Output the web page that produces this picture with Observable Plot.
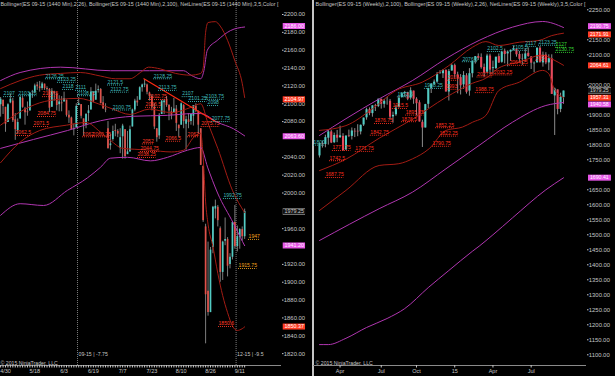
<!DOCTYPE html>
<html><head><meta charset="utf-8">
<script src="https://cdn.jsdelivr.net/npm/d3@7"></script>
<script src="https://cdn.jsdelivr.net/npm/@observablehq/plot@0.6"></script>
<style>
html,body{margin:0;padding:0;background:#000;}
#wrap{position:relative;width:615px;height:376px;background:#000;overflow:hidden;}
#wrap svg{position:absolute;top:0;}
#sep{position:absolute;left:312px;top:0;width:1.5px;height:376px;background:#c4c4c4;}
</style></head><body><div id="wrap"><div id="sep"></div></div>
<script>
// ================= DAILY (left panel) =================
const dOpen = [2099,2104,2096,2079,2101,2103,2082,2070,2083,2106, 2094,2091,2092,2113,2113,2121,2119,2117,2122,2117,
 2116,2096,2113,2111,2099,2101,2102,2104,2087,2084, 2071,2073,2098,2099,2083,2076,2089,2093,2113,2104,
 2115,2116,2101,2094,2072,2053,2060,2070,2069,2050, 2063,2071,2043,2046,2074,2093,2103,2104,2118,2121,
 2121,2112,2108,2096,2072,2064,2088,2101,2105,2098, 2091,2090,2094,2076,2076,2098,2077,2082,2080,2086,
 2097,2091,2072,2030,1962,1890,1866,1939,1982,1984, 1960,1911,1946,1948,1920,1928,1967,1940,1950,1959, 1951];
const dHigh = [2107,2104,2096,2100,2111,2106,2089,2083,2108,2108, 2096,2102,2112,2115,2122,2124,2125,2124,2122,2119,
 2117,2117,2114,2112,2109,2108,2113,2104,2092,2085, 2077,2100,2107,2099,2083,2089,2098,2118,2113,2122,
 2120,2117,2108,2100,2080,2066,2075,2077,2071,2072, 2077,2071,2069,2075,2094,2105,2108,2119,2122,2127,
 2122,2113,2110,2100,2072,2089,2104,2105,2108,2099, 2096,2106,2098,2076,2101,2099,2086,2089,2088,2098,
 2100,2092,2072,2030,1965,1945,1939,1985,1992,1986, 1962,1946,1972,1950,1932,1968,1986,1963,1960,1962, 1982];
const dLow = [2085,2088,2068,2079,2100,2079,2059,2066,2083,2095, 2076,2086,2092,2106,2111,2115,2113,2115,2115,2114,
 2090,2096,2103,2092,2091,2091,2102,2085,2078,2071, 2064,2073,2098,2083,2064,2072,2080,2093,2101,2104,
 2112,2100,2094,2090,2049,2048,2058,2063,2062,2044, 2038,2038,2043,2046,2074,2091,2097,2104,2113,2118,
 2110,2103,2092,2071,2057,2060,2088,2088,2096,2081, 2082,2089,2069,2062,2076,2072,2048,2072,2076,2075,
 2090,2066,2031,1967,1831,1862,1866,1932,1971,1962, 1900,1902,1941,1906,1915,1925,1937,1934,1937,1946, 1948];
const dClose = [2105,2097,2077,2099,2105,2081,2071,2079,2107,2096, 2090,2090,2112,2113,2120,2119,2117,2122,2117,2116,
 2095,2114,2111,2098,2102,2100,2106,2087,2084,2071, 2072,2097,2100,2086,2076,2088,2092,2113,2102,2114,
 2116,2100,2094,2093,2050,2055,2069,2069,2066,2062, 2075,2041,2046,2071,2093,2103,2101,2118,2121,2122,
 2113,2108,2096,2074,2062,2087,2103,2103,2098,2092, 2087,2094,2078,2072,2100,2080,2082,2079,2088,2098,
 2092,2076,2031,1969,1886,1866,1936,1984,1985,1969, 1911,1945,1948,1918,1928,1967,1940,1951,1959,1951, 1979.25];

const dXLabels   = ["4/30","5/18","6/3","6/19","7/7","7/23","8/10","8/26","9/11"];
const dXLabelIdx = [2,14,26,38,50,62,74,86,98];
// visible price-axis labels (those hidden behind the price markers are left out)
const dYTicks = [1820,1840,1860,1880,1900,1920,1960,2000,2020,2040,2080,2100,2120,2140,2160,2180,2200];

// indicator lines [bar index, price]
const dBB26Up  = [[0,2117],[8,2126],[16,2132],[24.5,2134],[32.7,2135],[41,2131],[47,2128],[53,2128],[57.3,2135],[60.6,2141],[65.5,2139],[71.7,2134],[77.8,2132],[82,2134],[83,2140],[84,2180],[85,2191],[88,2192],[90,2187],[93,2171],[96,2148],[99,2123],[100,2107]];
const dBB26Mid = [[0,2076],[8,2091],[16,2101],[24,2105],[32,2106],[40,2100],[46,2094],[53,2088],[61,2094],[70,2090],[78,2096],[82,2100],[85,2078],[89,2050],[95,2003],[100,1978]];
const dBB26Low = [[0,2034],[8,2057],[16,2070],[27,2076],[35,2079],[41,2068],[45,2059],[50,2050],[55,2049],[61,2048],[70,2046],[75,2048],[79,2062],[82,2067],[83,2040],[84,1990],[85,1965],[87,1940],[89,1910],[91,1885],[93,1866],[95,1851],[97,1846],[99,1848],[100,1850]];
const dBB100Up  = [[0,2126],[8,2135],[24.5,2141],[45,2137],[61,2137],[75,2137],[78,2132],[82,2128],[83.3,2137],[84.7,2160],[88.8,2171],[94.2,2182],[100,2186]];
const dBB100Mid = [[0,2050],[13.5,2060],[27.4,2070],[41,2081],[54.5,2086],[68.4,2087],[79,2089],[82,2089],[89,2079],[95.4,2072],[100,2064]];
const dBB100Low = [[0,1975],[8,1988],[17.6,1986],[27.4,2003],[35.6,2017],[41,2029],[45,2039],[52,2040],[61.4,2036],[68.4,2040],[76.6,2048],[82,2051],[84.8,2029],[88.9,2000],[95.4,1966],[98.3,1950],[100,1941]];
const dTrend = [[58.7,2128],[88,2080]];

const dRollIdx  = [31.5, 96.5];
const dRollText = ["09-15 | -7.75", "12-15 | -9.5"];

// NetLines labels [text, bar index, price level]
const dCyanLabels = [["2107",1.2,2108],["2103.25",7.3,2109],["2126.25",18.4,2128],["2123.25",23.3,2124],["2118",25.4,2116],["2111",30.7,2115],["2108.75",31.5,2109],["2121.5",43.8,2121],["2112.75",45,2113],["2100.75",45.9,2093],["2128.25",62.7,2128],["2113.75",64.7,2115],["2107",74.4,2108],["2101.25",77,2102.5],["2103.75",84,2105],["2098",84.8,2098],["2077.75",86.5,2080],["1992.75",91.3,1993.8]];
const dRedLabels = [["2107.5",17.2,2108],["2084.75",15.1,2085.7],["2071.5",13.5,2074.5],["2062.5",6.1,2064.4],["2062",33.6,2063],["2060.75",37.7,2063],["2052",58.1,2055],["2044.75",57.3,2046.5],["2038.25",56.1,2039.8],["2066.5",67.6,2058],["2062",76.6,2063],["2075.75",82.2,2074.5],["2102.75",60.6,2104.8],["2096.5",59.4,2096],["1850.6",89.3,1850.4]];
const dOrangeLabels = [["1947",101.6,1948],["1915.75",97.5,1915.4]];
const dBoxes = [["2186.00",2186,"mag"],["2104.97",2104.97,"red"],["2063.60",2063.6,"mag"],["1979.25",1979.25,"last"],["1941.20",1941.2,"mag"],["1850.37",1850.37,"red"]];

// ================= WEEKLY (right panel) =================
const wOpen = [1763,1803,1801,1822,1843,1807,1832,1824,1828,1783, 1830,1828,1845,1845,1843,1866,1890,1917,1904,1930,
 1928,1951,1935,1945,1945,1893,1900,1925,1957,1971, 1974,1956,1979,1952,1940,1875,1856,1935,1988,2002,
 2009,2037,2037,2048,1976,2046,2064,2033,2024,2000, 2030,1979,2037,2080,2094,2091,2058,2042,2096,2054,
 2054,2094,2075,2112,2103,2109,2115,2118,2101,2086, 2085,2105,2093,2070,2073,2122,2073,2099,2073,2087,
 1963,1983,1918,1957];
const wHigh = [1806,1812,1832,1848,1848,1839,1848,1862,1837,1830, 1849,1856,1854,1867,1866,1889,1922,1923,1930,1935,
 1952,1953,1951,1958,1951,1909,1931,1961,1973,1978, 1975,1990,1979,1957,1947,1882,1935,1988,2004,2016,
 2041,2047,2051,2050,2051,2069,2069,2042,2034,2044, 2037,2054,2079,2094,2103,2103,2069,2102,2102,2079,
 2092,2103,2112,2119,2113,2116,2128,2119,2111,2102, 2120,2123,2093,2076,2123,2128,2109,2107,2100,2100,
 1989,1983,1972,1979];
const wLow = [1756,1789,1790,1799,1804,1804,1807,1821,1779,1781, 1824,1816,1824,1827,1833,1861,1882,1897,1892,1911,
 1924,1919,1922,1932,1883,1872,1895,1922,1957,1958, 1947,1949,1935,1896,1876,1791,1856,1921,1971,1998,
 2005,2036,2021,1976,1946,2045,2022,1970,1966,1985, 1969,1962,2023,2069,2081,2052,2025,2037,2033,2035,
 2051,2071,2072,2070,2060,2078,2113,2092,2074,2065, 2075,2092,2051,2040,2073,2072,2059,2067,2047,1968,
 1831,1900,1907,1935];
const wClose = [1803,1801,1824,1843,1806,1831,1822,1830,1780,1829, 1828,1846,1843,1843,1865,1889,1917,1904,1930,1928,
 1952,1935,1945,1945,1892,1898,1922,1955,1970,1974, 1952,1980,1952,1937,1876,1856,1934,1988,2001,2009,
 2034,2039,2047,1976,2044,2064,2034,2022,1997,2031, 1975,2037,2078,2094,2088,2057,2039,2096,2049,2057,
 2092,2073,2109,2101,2109,2115,2119,2100,2085,2087, 2103,2094,2072,2072,2122,2075,2099,2073,2087,1968,
 1986,1918,1958,1979.25];

const wXLabels   = ["Apr","Jul","Oct","15","Apr","Jul"];
const wXLabelIdx = [7,21,33,46,59,72];
// visible price-axis labels (those hidden behind the price markers are left out)
const wYTicks = [1100,1150,1200,1250,1300,1350,1400,1450,1500,1550,1600,1650,1750,1800,1850,1900,2000,2100,2150,2250];

const wBB100Up  = [[0,1831],[9,1887],[20.3,1953],[31.6,2014],[43,2087],[54.3,2148],[65.6,2192],[75.9,2211],[83,2191]];
const wBB100Mid = [[0,1481],[20.3,1587],[31.6,1642],[43,1720],[54.3,1798],[65.6,1875],[77,1931],[83,1941]];
const wBB100Low = [[0,1134],[3,1134],[9,1155],[16,1191],[23,1221],[29,1254],[37,1324],[44,1381],[52,1445],[54.3,1462],[59,1500],[65.6,1556],[77,1650],[83,1690]];
const wBB26Up  = [[0,1848],[9,1864],[18,1920],[26,1981],[35,2009],[44,2064],[52,2125],[56.6,2144],[61,2131],[68,2142],[74.7,2148],[79,2164],[83,2172]];
const wBB26Mid = [[0,1714],[9,1752],[20.3,1822],[31.6,1885],[43,1958],[52,2005],[56.6,2022],[61,2056],[68,2076],[75.9,2099],[79.3,2085],[83,2065]];
const wBB26Low = [[0,1581],[9,1648],[20.3,1731],[27,1737],[31.6,1753],[37.3,1787],[43,1848],[48.6,1859],[52,1875],[56.6,1898],[61,1981],[68,2009],[75.9,2048],[78,2037],[79.8,1987],[83,1958]];

const wRedLabels = [["1742.5",3.4,1747],["1777.75",4.4,1781],["1771.75",12.2,1778],["1687.75",2,1691],["1822.25",40.8,1829],["1852.25",39.5,1857],["1790.75",38.4,1795],["1988.75",53,1974],["1842.75",17.3,1832],["1876.75",18.7,1871],["1915.5",24.8,1921],["1876.5",27.9,1877],["1895.75",29.3,1899],["2013",43.5,2015],["1993",43,1985],["2064.25",64.6,2065],["2032.25",59.3,2033],["2027.5",53.6,2026],["2082",73.5,2082]];
const wCyanLabels = [["2102.5",57.1,2111],["2123.25",74.5,2132],["2117",70,2128],["2105.5",65.6,2115],["2076.5",48.6,2077],["1988.25",35.7,1988],["1952.5",26.5,1960],["1800",-2,1799]];
const wGreenLabels = [["2127",80.3,2125],["2130.75",80.3,2108]];
const wBoxes = [["2190.75",2190.75,"mag"],["2171.91",2171.91,"red"],["2064.61",2064.61,"red"],["1979.25",1979.25,"last"],["1957.31",1957.31,"red"],["1940.58",1940.58,"mag"],["1690.41",1690.41,"mag"]];

const hdrL = "Bollinger(ES 09-15 (1440 Min),2,26), Bollinger(ES 09-15 (1440 Min),2,100), NetLines(ES 09-15 (1440 Min),3,5,Color [";
const hdrR = "Bollinger(ES 09-15 (Weekly),2,100), Bollinger(ES 09-15 (Weekly),2,26), NetLines(ES 09-15 (Weekly),3,5,Color [";
const copyright = "© 2015 NinjaTrader, LLC";

// ================= drawing =================
const FONT = "'Liberation Sans', Arial, Helvetica, sans-serif";
const UP = "#52cbc3", WICK = "#9c9c9c", MAG = "#b036b0", DRED = "#a31c14";
const TXT = "#c6c6c6", AXL = "#8a8a8a";

const toBars = (o,h,l,c) => c.map((v,i) => ({i, o:o[i], h:h[i], l:l[i], c:v}));

function candles(data, dn, bodyW, wickW) {
  return [
    Plot.ruleX(data, {x:"i", y1:"l", y2:"h", stroke: WICK, strokeWidth: wickW}),
    Plot.ruleX(data.filter(d => d.c >= d.o), {x:"i", y1:"o", y2:"c", stroke: UP, strokeWidth: bodyW}),
    Plot.ruleX(data.filter(d => d.c < d.o), {x:"i", y1:"o", y2:"c", stroke: dn, strokeWidth: bodyW})
  ];
}
function line(pts, stroke, w = 1) {
  return Plot.line(pts, {x: d => d[0], y: d => d[1], stroke, strokeWidth: w, curve: "monotone-x"});
}
function netLabels(list, color, k, fs) {
  const rows = list.map(([t, i, p]) => ({t, i, p}));
  const wIdx = t => ((t.replace(/[^0-9]/g, "").length) * 0.556 + ((t.match(/\./g) || []).length) * 0.278) * fs / k;
  return [
    Plot.ruleY(rows, {y:"p", x1:"i", x2: d => d.i + wIdx(d.t), stroke: color, strokeWidth: 0.9, strokeDasharray: "1,1"}),
    Plot.text(rows, {x:"i", y:"p", text:"t", dy:-2.8, textAnchor:"start", fill: color, fontSize: fs})
  ];
}
// price marker boxes in the right margin; nudge = small vertical shift (px) so stacked boxes don't collide
function priceBoxes(list, x1, x2, xt, fs, nudge) {
  const st = {mag:{bg:"#e656e6", fg:"#fff4ff"}, red:{bg:"#ff3b22", fg:"#fff"}, last:{bg:"#121212", fg:"#cfcfcf"}};
  const marks = [];
  list.forEach(([t, v, kind], k) => {
    const dy = nudge[k] || 0;
    const row = [{t, v}];
    if (kind === "last") marks.push(Plot.ruleY(row, {y:"v", x1, x2, dy, stroke:"#9a9a9a", strokeWidth:6.4}));
    marks.push(Plot.ruleY(row, {y:"v", x1, x2, dy, stroke: st[kind].bg, strokeWidth: kind === "last" ? 4.8 : 6}));
    marks.push(Plot.text(row, {x: xt, y:"v", dy, text:"t", textAnchor:"start", fill: st[kind].fg, fontSize: fs}));
  });
  return marks;
}
const baseStyle = {background:"transparent", color: TXT, fontFamily: FONT, overflow:"visible"};

// ---------- left ----------
const daily = toBars(dOpen, dHigh, dLow, dClose);
const dLabMap = new Map(dXLabelIdx.map((v, k) => [v, dXLabels[k]]));
const dX = [-0.05, 115.1], dY = [1806.72, 2215.69];
const left = Plot.plot({
  width: 309, height: 376, marginLeft: 0, marginRight: 28, marginTop: 0, marginBottom: 11,
  x: {domain: dX, axis: null}, y: {domain: dY, axis: null},
  style: baseStyle,
  marks: [
    Plot.ruleX(dRollIdx, {stroke:"#9a9a9a", strokeWidth:0.8, strokeDasharray:"1,1"}),
    ...candles(daily, "#e0514a", 1.7, 0.8),
    line(dBB100Up, MAG), line(dBB100Mid, MAG), line(dBB100Low, MAG),
    line(dBB26Up, DRED), line(dBB26Mid, DRED), line(dBB26Low, DRED),
    Plot.line(dTrend, {x: d => d[0], y: d => d[1], stroke:"#ff2a12", strokeWidth:1.2}),
    ...netLabels(dRedLabels, "#ff3a26", 2.44, 5.1),
    ...netLabels(dCyanLabels, "#3fb9b9", 2.44, 5.1),
    ...netLabels(dOrangeLabels, "#f5a21c", 2.44, 5.1),
    Plot.ruleY([dY[0]], {stroke: AXL, strokeWidth: 1}),
    Plot.axisX(daily.map(d => d.i), {anchor:"bottom", label: null, tickSize:2.5, tickPadding:1.2, fontSize:5.5, tickFormat: i => dLabMap.get(i) ?? ""}),
    Plot.axisY(dYTicks, {anchor:"right", label: null, tickSize:1.5, tickPadding:0.8, fontSize:5.9, tickFormat: d3.format(".2f")}),
    ...priceBoxes(dBoxes, 115.8, 124.95, 116.3, 5.4, [-1, 0, 0, 0, 0, 0]),
    Plot.text(dRollIdx.map((v, k) => ({i: v, t: dRollText[k]})), {x:"i", text:"t", frameAnchor:"bottom", dy:-10, dx:1, textAnchor:"start", fill: TXT, fontSize:5.2}),
    Plot.text([copyright], {frameAnchor:"bottom-left", text: d => d, dy:-1, fill: TXT, fontSize:5.2}),
    Plot.text([hdrL], {frameAnchor:"top-left", text: d => d, dy:2, fill: TXT, fontSize:5.6, className:"hdrL"})
  ]
});

// ---------- right ----------
const weekly = toBars(wOpen, wHigh, wLow, wClose);
const wLabMap = new Map(wXLabelIdx.map((v, k) => [v, wXLabels[k]]));
const wX = [-2.04, 90.82], wY = [1064.3, 2281];
const right = Plot.plot({
  width: 306, height: 376, marginLeft: 4, marginRight: 29, marginTop: 0, marginBottom: 11,
  x: {domain: wX, axis: null}, y: {domain: wY, axis: null},
  style: baseStyle,
  marks: [
    ...candles(weekly, "#e8485a", 2.1, 0.9),
    line(wBB100Up, MAG), line(wBB100Mid, MAG), line(wBB100Low, MAG),
    line(wBB26Up, DRED), line(wBB26Mid, DRED), line(wBB26Low, DRED),
    ...netLabels(wRedLabels, "#ff2f1e", 2.94, 5.1),
    ...netLabels(wCyanLabels, "#3fb9b9", 2.94, 5.1),
    ...netLabels(wGreenLabels, "#36d636", 2.94, 5.1),
    Plot.ruleY([wY[0]], {stroke: AXL, strokeWidth: 1}),
    Plot.axisX(wXLabelIdx, {anchor:"bottom", label: null, tickSize:2.5, tickPadding:1.2, fontSize:5.5, tickFormat: i => wLabMap.get(i) ?? ""}),
    Plot.axisY(wYTicks, {anchor:"right", label: null, tickSize:1.5, tickPadding:0.8, fontSize:5.9, tickFormat: d3.format(".2f")}),
    ...priceBoxes(wBoxes, 91.5, 99.3, 92.0, 5.2, [-1.4, 1.2, 0, -0.6, 0.2, 1.8, 0]),
    Plot.text([copyright], {frameAnchor:"bottom-left", text: d => d, dx:2, dy:-1, fill: TXT, fontSize:5.2}),
    Plot.text([hdrR], {frameAnchor:"top-left", text: d => d, dx:2, dy:2, fill: TXT, fontSize:5.6, className:"hdrR"})
  ]
});

left.style.left = "0px";
right.style.left = "309px";
const wrap = document.getElementById("wrap");
wrap.appendChild(left);
wrap.appendChild(right);
d3.select(left).selectAll(".hdrL text").attr("textLength", 278).attr("lengthAdjust", "spacingAndGlyphs");
d3.select(right).selectAll(".hdrR text").attr("textLength", 270).attr("lengthAdjust", "spacingAndGlyphs");
</script></body></html>
